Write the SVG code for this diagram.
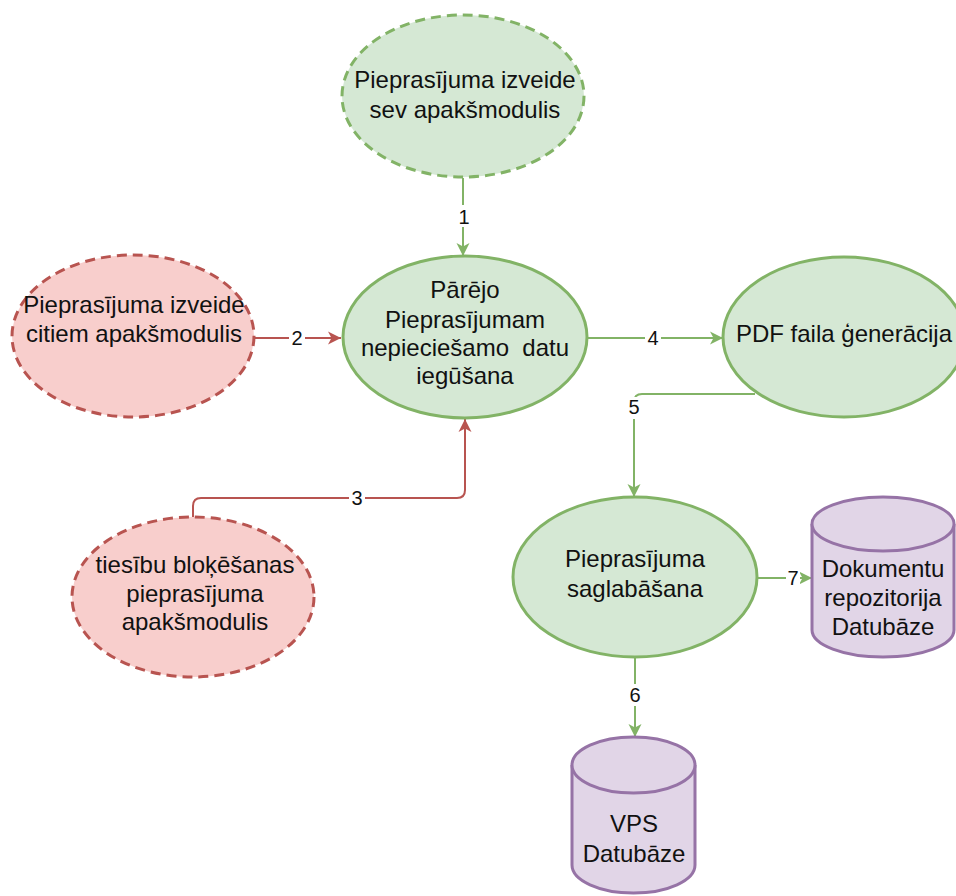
<svg xmlns="http://www.w3.org/2000/svg" width="956" height="896" viewBox="0 0 956 896">
<style>
.g{fill:#d5e8d4;stroke:#82b366;stroke-width:3}
.r{fill:#f8cecc;stroke:#b85450;stroke-width:3}
.p{fill:#e1d5e7;stroke:#9673a6;stroke-width:3}
.d{stroke-dasharray:10 6}
.t{font-family:"Liberation Sans",Arial,sans-serif;font-size:24px;fill:#111;text-anchor:middle;white-space:pre}
.l{font-family:"Liberation Sans",Arial,sans-serif;font-size:20px;fill:#111;text-anchor:middle}
.eg{fill:none;stroke:#82b366;stroke-width:2}
.er{fill:none;stroke:#b85450;stroke-width:2}
.bg{fill:#fff}
</style>
<defs>
<marker id="ag" markerUnits="userSpaceOnUse" markerWidth="16" markerHeight="16" refX="13" refY="8" orient="auto">
<path d="M0,1.5 L13,8 L0,14.5 L3.5,8 z" fill="#82b366"/>
</marker>
<marker id="ar" markerUnits="userSpaceOnUse" markerWidth="16" markerHeight="16" refX="13" refY="8" orient="auto">
<path d="M0,1.5 L13,8 L0,14.5 L3.5,8 z" fill="#b85450"/>
</marker>
</defs>
<rect width="956" height="896" fill="#fff"/>
<g id="connectors">
<path class="eg" d="M463,178 L463,256" marker-end="url(#ag)"/>
<rect class="bg" x="456" y="205" width="16" height="22"/>
<text class="l" x="464" y="224">1</text>
<path class="er" d="M254,338 L341,338" marker-end="url(#ar)"/>
<rect class="bg" x="289" y="327" width="16" height="22"/>
<text class="l" x="297" y="345">2</text>
<path class="er" d="M193,517 L193,506 Q193,498 201,498 L457,498 Q465,498 465,490 L465,419" marker-end="url(#ar)"/>
<rect class="bg" x="349" y="487" width="16" height="22"/>
<text class="l" x="357" y="505">3</text>
<path class="eg" d="M588,338 L723,338" marker-end="url(#ag)"/>
<rect class="bg" x="645" y="327" width="16" height="22"/>
<text class="l" x="653" y="345">4</text>
<path class="eg" d="M755,394 L642,394 Q634,394 634,402 L634,497" marker-end="url(#ag)"/>
<rect class="bg" x="626" y="397" width="16" height="22"/>
<text class="l" x="634" y="414">5</text>
<path class="eg" d="M635,657 L635,737" marker-end="url(#ag)"/>
<rect class="bg" x="627" y="684" width="16" height="22"/>
<text class="l" x="635" y="702">6</text>
<path class="eg" d="M757,578 L812,578" marker-end="url(#ag)"/>
<rect class="bg" x="786" y="567" width="14" height="22"/>
<text class="l" x="793" y="585">7</text>
</g>
<g id="node-sev">
<ellipse class="g d" cx="463" cy="96" rx="121" ry="81"/>
<text class="t" x="465" y="88">Pieprasījuma izveide</text>
<text class="t" x="465" y="118">sev apakšmodulis</text>
</g>
<g id="node-citiem">
<ellipse class="r d" cx="133" cy="336" rx="121" ry="81"/>
<text class="t" x="134" y="313">Pieprasījuma izveide</text>
<text class="t" x="134" y="342">citiem apakšmodulis</text>
</g>
<g id="node-center">
<ellipse class="g" cx="465" cy="337" rx="122" ry="81"/>
<text class="t" x="465" y="298">Pārējo</text>
<text class="t" x="465" y="328">Pieprasījumam</text>
<text class="t" x="465" y="356" xml:space="preserve">nepieciešamo  datu</text>
<text class="t" x="465" y="384">iegūšana</text>
</g>
<g id="node-pdf">
<ellipse class="g" cx="844" cy="337" rx="121" ry="80"/>
<text class="t" x="844" y="342">PDF faila ģenerācija</text>
</g>
<g id="node-bloke">
<ellipse class="r d" cx="193" cy="597" rx="121" ry="80"/>
<text class="t" x="195" y="573">tiesību bloķēšanas</text>
<text class="t" x="195" y="602">pieprasījuma</text>
<text class="t" x="195" y="630">apakšmodulis</text>
</g>
<g id="node-saglab">
<ellipse class="g" cx="635" cy="577" rx="122" ry="80"/>
<text class="t" x="635" y="567">Pieprasījuma</text>
<text class="t" x="635" y="597">saglabāšana</text>
</g>
<g id="node-dokumentu">
<path class="p" d="M812,524 A71,27 0 0 1 954,524 L954,630 A71,27 0 0 1 812,630 Z"/>
<path class="p" fill="none" d="M812,524 A71,27 0 0 0 954,524"/>
<text class="t" x="883" y="577">Dokumentu</text>
<text class="t" x="883" y="606">repozitorija</text>
<text class="t" x="883" y="635">Datubāze</text>
</g>
<g id="node-vps">
<path class="p" d="M572,765 A61.5,28 0 0 1 695,765 L695,865 A61.5,28 0 0 1 572,865 Z"/>
<path class="p" fill="none" d="M572,765 A61.5,28 0 0 0 695,765"/>
<text class="t" x="634" y="832">VPS</text>
<text class="t" x="634" y="862">Datubāze</text>
</g>
</svg>
